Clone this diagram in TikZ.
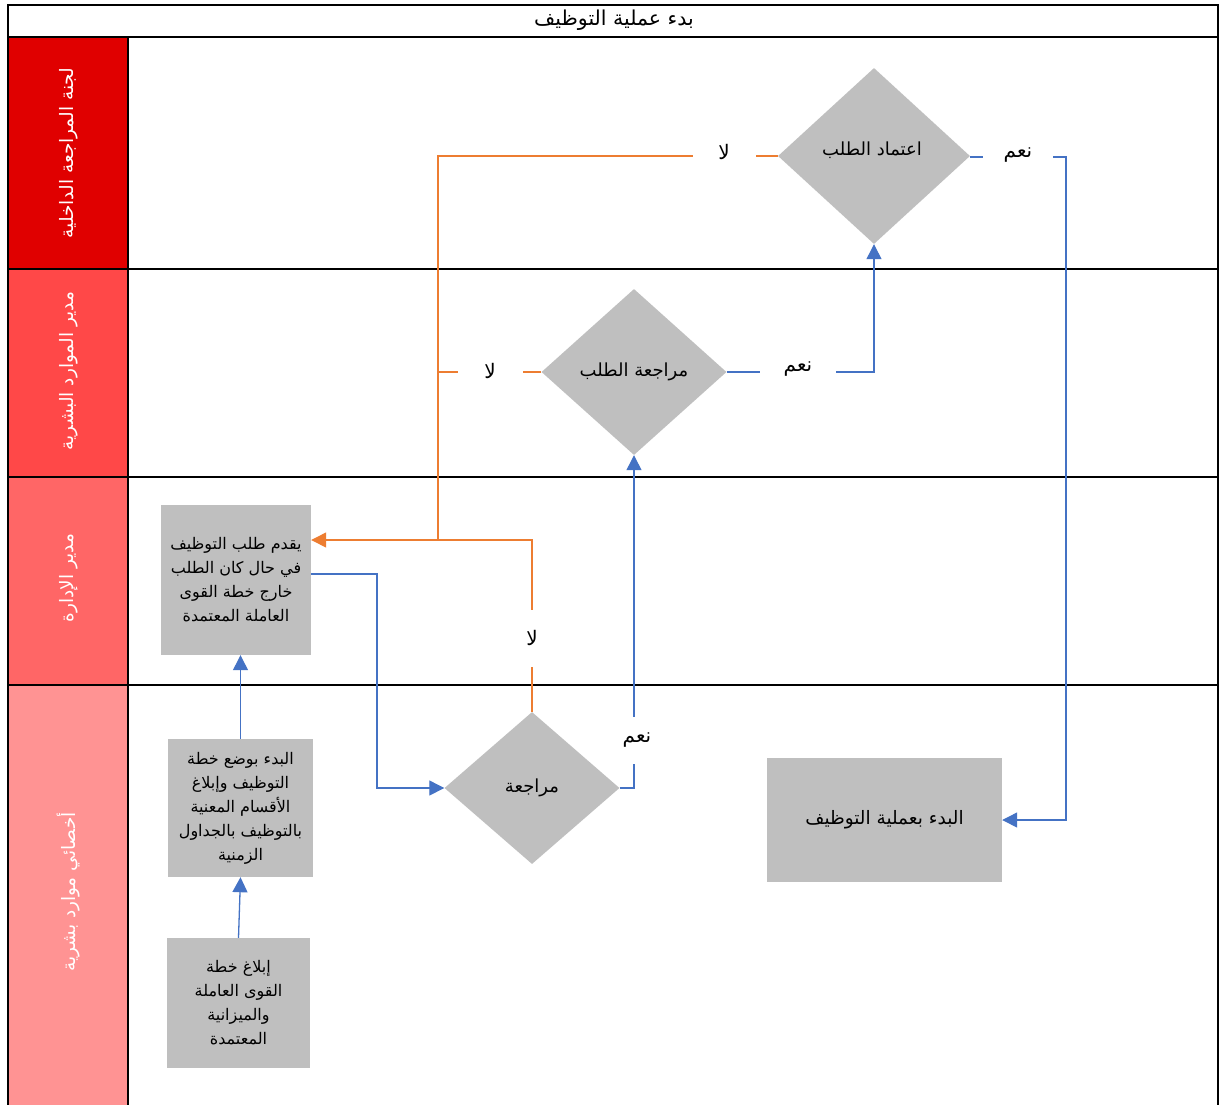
\documentclass[tikz,border=0pt]{standalone}
\usepackage{fontspec}
\setmainfont{Liberation Sans}
\newfontfamily\arabicfont[Script=Arabic]{DejaVu Sans}
\TeXXeTstate=1
\usetikzlibrary{shapes.geometric,arrows.meta}
\newcommand\ar[1]{{\arabicfont\beginR #1\endR}}
\definecolor{laneA}{HTML}{E00000}
\definecolor{laneB}{HTML}{FF4848}
\definecolor{laneC}{HTML}{FF6666}
\definecolor{laneD}{HTML}{FF9393}
\definecolor{flowblue}{HTML}{4472C4}
\definecolor{floworange}{HTML}{ED7D31}
\definecolor{shapegray}{HTML}{BFBFBF}
\tikzset{
  frame/.style={draw=black, line width=1.8},
  lanelabel/.style={rotate=90, text=white, font=\fontsize{18.5}{20}\selectfont},
  procbox/.style={fill=shapegray, draw=none, align=center, inner sep=0,
    font=\fontsize{16}{24}\selectfont},
  decision/.style={diamond, fill=shapegray, draw=none, inner sep=0,
    font=\fontsize{18}{22}\selectfont},
  yesline/.style={draw=flowblue, line width=1.3},
  noline/.style={draw=floworange, line width=1.3},
  tip/.style={-{Triangle[width=15pt,length=15pt]}},
  branch/.style={fill=white, inner sep=0, font=\fontsize{20}{22}\selectfont}
}
\begin{document}
\begin{tikzpicture}[x=1pt,y=-1pt]
\useasboundingbox (0,0) rectangle (1229,1104);
\fill[white] (0,0) rectangle (1229,1104);

% lane header column
\fill[laneA] (8,37) rectangle (128,269);
\fill[laneB] (8,269) rectangle (128,477);
\fill[laneC] (8,477) rectangle (128,685);
\fill[laneD] (8,685) rectangle (128,1110);

% pool frame and lane dividers
\draw[frame] (8,5) rectangle (1218,1110);
\draw[frame] (8,37) -- (1218,37);
\draw[frame] (8,269) -- (1218,269);
\draw[frame] (8,477) -- (1218,477);
\draw[frame] (8,685) -- (1218,685);
\draw[frame] (128,37) -- (128,1110);

\node[font=\fontsize{20.5}{22}\selectfont] (title) at (614,20) {\ar{بدء عملية التوظيف}};

\node[lanelabel] (laneone) at (69,153) {\ar{لجنة المراجعة الداخلية}};
\node[lanelabel] (lanetwo) at (69,371) {\ar{مدير الموارد البشرية}};
\node[lanelabel] (lanethree) at (69,578) {\ar{مدير الإدارة}};
\node[lanelabel] (lanefour) at (69,892) {\ar{أخصائي موارد بشرية}};

% process boxes
\node[procbox, minimum width=150, minimum height=150] (b1) at (236,580)
  {\ar{يقدم طلب التوظيف}\\\ar{في حال كان الطلب}\\\ar{خارج خطة القوى}\\\ar{العاملة المعتمدة}};
\node[procbox, minimum width=145, minimum height=138] (b2) at (240.5,808)
  {\ar{البدء بوضع خطة}\\\ar{التوظيف وإبلاغ}\\\ar{الأقسام المعنية}\\\ar{بالتوظيف بالجداول}\\\ar{الزمنية}};
\node[procbox, minimum width=143, minimum height=130] (b3) at (238.5,1003)
  {\ar{إبلاغ خطة}\\\ar{القوى العاملة}\\\ar{والميزانية}\\\ar{المعتمدة}};
\node[procbox, minimum width=235, minimum height=124, font=\fontsize{18.5}{22}\selectfont] (b4) at (884.5,820)
  {\ar{البدء بعملية التوظيف}};

% decisions
\node[decision, minimum width=192, minimum height=176] (d1) at (874,156) {};
\node[font=\fontsize{18}{22}\selectfont] (d1t) at (872,150) {\ar{اعتماد الطلب}};
\node[decision, minimum width=185, minimum height=166] (d2) at (634,372) {\ar{مراجعة الطلب}};
\node[decision, minimum width=175, minimum height=152] (d3) at (532,788) {\ar{مراجعة}};

\coordinate (join) at (438,540);
\coordinate (rightrail) at (1066,157);

% blue (yes / forward) connectors
\draw[yesline, tip] (b3.north) -- (b2.south);
\draw[yesline, tip] (b2.north) -- (b2.north |- b1.south);
\draw[yesline, tip] ([yshift=6pt]b1.east) -| (377,700) |- (d3.west);
\draw[yesline, tip] (d3.east) -- (d3.east -| d2.south) -- (d2.south);
\draw[yesline, tip] (d2.east) -- (d2.east -| d1.south) -- (d1.south);
\draw[yesline, tip] (d1.east |- rightrail) -- (rightrail) -- (rightrail |- b4.east) -- (b4.east);

% orange (no / return) connectors
\draw[noline] (d1.west) -- (d1.west -| join) -- (join);
\draw[noline] (d2.west) -- (d2.west -| join);
\draw[noline, tip] (d3.north) -- (d3.north |- join) -- (join -| b1.east);

% branch labels
\node[branch, minimum width=63, minimum height=20] (no1) at (724,152) {\ar{لا}};
\node[branch, minimum width=70, minimum height=20] (yes1) at (1018,155) {\ar{نعم}};
\node[branch, minimum width=65, minimum height=20] (no2) at (490,371) {\ar{لا}};
\node[branch, minimum width=76, minimum height=20] (yes2) at (798,369) {\ar{نعم}};
\node[branch, minimum width=24, minimum height=57] (no3) at (532,638) {\ar{لا}};
\node[branch, minimum width=34, minimum height=47] (yes3) at (637,740) {\ar{نعم}};
\end{tikzpicture}
\end{document}
